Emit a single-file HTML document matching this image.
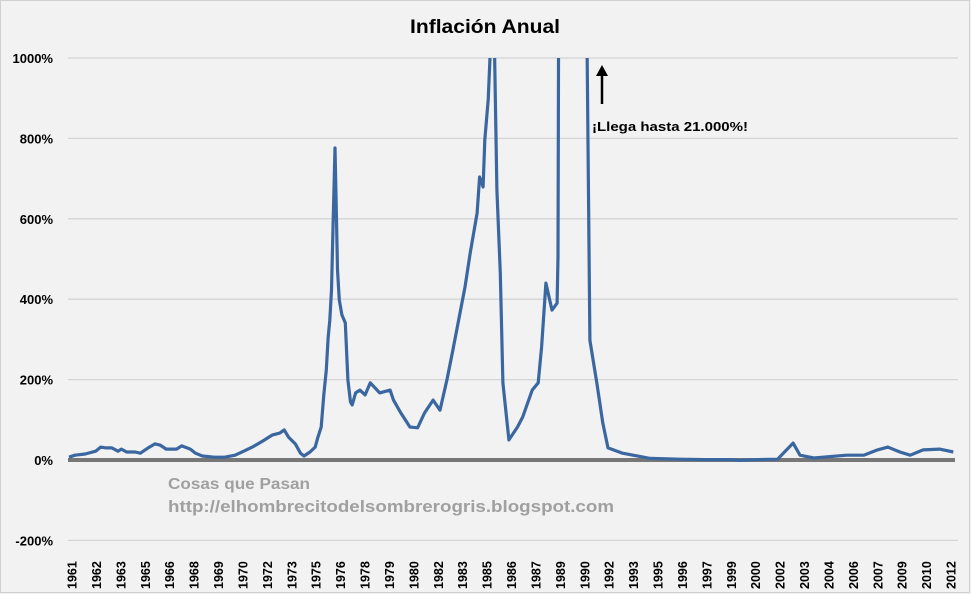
<!DOCTYPE html>
<html><head><meta charset="utf-8"><style>
html,body{margin:0;padding:0;background:#f2f2f2;}
svg{display:block;font-family:"Liberation Sans",sans-serif;}
</style></head><body>
<svg id="chart" width="971" height="594" viewBox="0 0 971 594">
<rect x="0" y="0" width="971" height="594" fill="#f2f2f2"/>
<rect x="0.5" y="0.5" width="969" height="592" fill="none" stroke="#d0d0d0"/>
<text x="410" y="33" textLength="150" lengthAdjust="spacingAndGlyphs" font-size="19" font-weight="bold" fill="#000">Inflación Anual</text>
<g id="grid"></g>
<g id="ylabels"></g>
<g id="xlabels"></g>
<text x="168" y="489" textLength="142" lengthAdjust="spacingAndGlyphs" font-size="16" font-weight="bold" fill="#a0a0a0">Cosas que Pasan</text>
<text x="168" y="512" textLength="446" lengthAdjust="spacingAndGlyphs" font-size="17" font-weight="bold" fill="#a0a0a0">http://elhombrecitodelsombrerogris.blogspot.com</text>
<defs><clipPath id="plotclip"><rect x="60" y="58" width="905" height="490"/></clipPath></defs>
<g id="series" clip-path="url(#plotclip)"></g>
<g>
<line x1="602" y1="104" x2="602" y2="72" stroke="#000" stroke-width="2.5"/>
<polygon points="596,76 602,65 608,76" fill="#000"/>
</g>
<text x="592" y="131" textLength="156" lengthAdjust="spacingAndGlyphs" font-size="13" font-weight="bold" fill="#000">¡Llega hasta 21.000%!</text>
</svg>
<script>
const yTicks=[1000,800,600,400,200,0,-200];
const yTickLabels=["1000%","800%","600%","400%","200%","0%","-200%"];
const xTickLabels=["1961","1962","1963","1965","1966","1968","1969","1970","1972","1973","1975","1976","1978","1979","1980","1982","1983","1985","1986","1987","1989","1990","1992","1993","1995","1996","1997","1999","2000","2002","2003","2004","2006","2007","2009","2010","2012"];
const years=[1961.06,1961.4,1962.0,1962.6,1962.9,1963.2,1963.55,1963.9,1964.1,1964.4,1964.9,1965.2,1965.65,1966.05,1966.35,1966.7,1967.3,1967.6,1968.1,1968.4,1968.8,1969.5,1970.1,1970.7,1971.2,1971.7,1972.3,1972.85,1973.3,1973.55,1973.8,1974.2,1974.5,1974.7,1975.05,1975.35,1975.5,1975.7,1975.85,1976.0,1976.1,1976.2,1976.3,1976.4,1976.5,1976.58,1976.65,1976.75,1976.9,1977.1,1977.25,1977.4,1977.5,1977.7,1977.95,1978.25,1978.55,1979.1,1979.7,1979.9,1980.3,1980.85,1981.3,1981.7,1982.2,1982.6,1983.0,1983.35,1983.65,1984.05,1984.35,1984.75,1984.9,1985.1,1985.2,1985.4,1985.6,1985.75,1985.9,1986.1,1986.25,1986.6,1987.1,1987.4,1987.95,1988.3,1988.5,1988.75,1989.1,1989.4,1989.45,1989.6,1989.9,1990.2,1990.5,1990.8,1991.1,1991.3,1991.7,1992.05,1992.35,1993.2,1994.8,1996.5,1998.0,1999.5,2000.0,2001.0,2002.2,2002.6,2003.1,2003.5,2004.3,2006.2,2007.2,2008.0,2008.6,2009.3,2009.9,2010.65,2011.6,2012.4];
const inflation=[7,12,15,22,32,30,30,22,27,20,20,17,30,40,37,27,27,35,27,17,10,7,7,12,22,32,47,62,67,75,57,40,17,10,20,32,55,82,162,224,303,348,423,597,776,622,473,398,361,341,199,144,137,167,174,162,192,167,174,149,119,82,80,117,149,124,199,274,341,430,515,614,704,679,796,896,1100,1050,672,465,192,50,82,107,174,192,281,440,373,390,505,3000,8000,21000,12000,5000,1200,298,192,92,30,17,4,2,1,1,-1,1,2,20,42,12,5,12,12,25,32,20,12,25,27,20];
const NS="http://www.w3.org/2000/svg";
const x0=68,x1=955,t0=1961.0,t1=2012.5;
function xScale(t){return x0+(t-t0)/(t1-t0)*(x1-x0);}
function yScale(v){return 460-v*0.402;}
const grid=document.getElementById('grid'),yl=document.getElementById('ylabels'),xl=document.getElementById('xlabels'),ser=document.getElementById('series');
yTicks.forEach((v,i)=>{
  const y=yScale(v);
  if(v!==0){
    const l=document.createElementNS(NS,'line');
    l.setAttribute('x1',68);l.setAttribute('x2',958);l.setAttribute('y1',y);l.setAttribute('y2',y);
    l.setAttribute('stroke','#d4d4d4');l.setAttribute('stroke-width','1.3');
    
    
    grid.appendChild(l);
  }
  const t=document.createElementNS(NS,'text');
  t.setAttribute('x',53);t.setAttribute('y',y+5);t.setAttribute('text-anchor','end');
  t.setAttribute('font-size','13');t.setAttribute('font-weight','bold');
  t.textContent=yTickLabels[i];
  
  
  yl.appendChild(t);
});
const n=xTickLabels.length;
xTickLabels.forEach((s,i)=>{
  const cx=72+i*(951-72)/(n-1);
  const t=document.createElementNS(NS,'text');
  t.setAttribute('transform','translate('+(cx+4.5)+',589) rotate(-90)');
  t.setAttribute('font-size','12.5');t.setAttribute('font-weight','bold');
  t.textContent=s;
  
  
  xl.appendChild(t);
});
const zl=document.createElementNS(NS,'line');
zl.setAttribute('x1',68);zl.setAttribute('x2',955);zl.setAttribute('y1',yScale(0));zl.setAttribute('y2',yScale(0));
zl.setAttribute('stroke','#777');zl.setAttribute('stroke-width','4');


grid.appendChild(zl);
const p=document.createElementNS(NS,'path');
p.setAttribute('d',years.map((t,i)=>(i?'L':'M')+xScale(t).toFixed(1)+','+yScale(inflation[i]).toFixed(1)).join(''));
p.setAttribute('fill','none');p.setAttribute('stroke','#3a67a0');p.setAttribute('stroke-width','3.2');p.setAttribute('stroke-linejoin','round');


ser.appendChild(p);
</script>
</body></html>
